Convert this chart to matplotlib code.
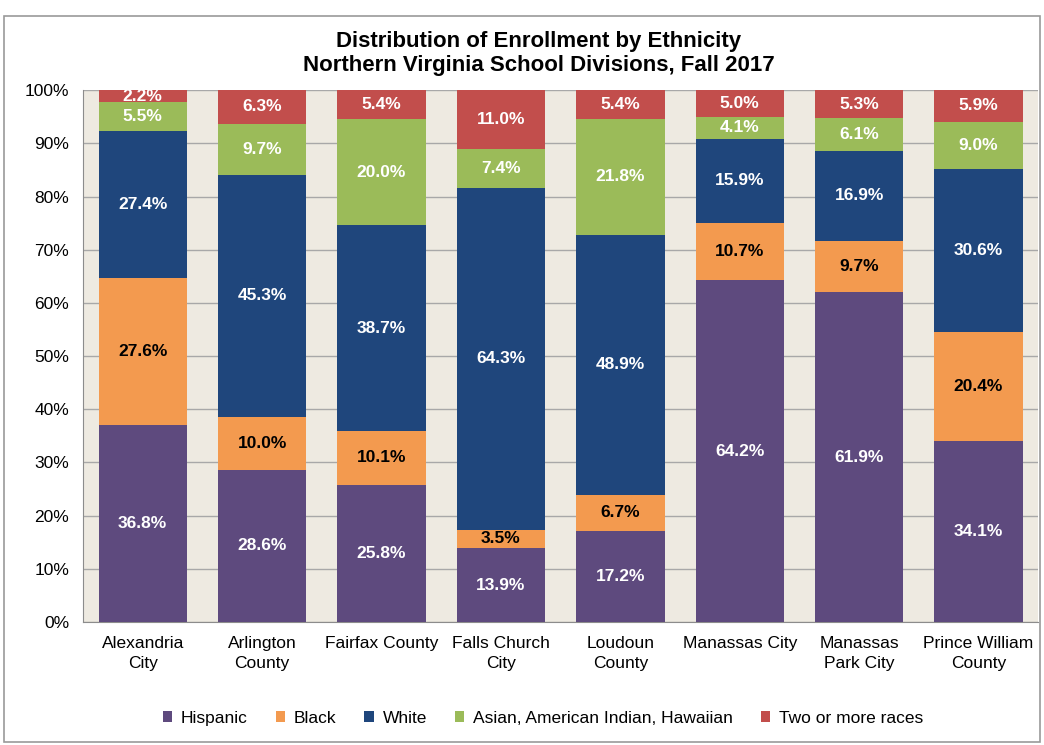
import matplotlib
matplotlib.use("Agg")
import matplotlib.pyplot as plt
import numpy as np
from matplotlib.patches import Rectangle

plt.rcParams['font.family'] = ['Liberation Sans', 'DejaVu Sans']

categories = ["Alexandria\nCity", "Arlington\nCounty", "Fairfax County", "Falls Church\nCity",
              "Loudoun\nCounty", "Manassas City", "Manassas\nPark City", "Prince William\nCounty"]
series_names = ["Hispanic", "Black", "White", "Asian, American Indian, Hawaiian", "Two or more races"]
hispanic = [36.8, 28.6, 25.8, 13.9, 17.2, 64.2, 61.9, 34.1]
black = [27.6, 10.0, 10.1, 3.5, 6.7, 10.7, 9.7, 20.4]
white = [27.4, 45.3, 38.7, 64.3, 48.9, 15.9, 16.9, 30.6]
asian = [5.5, 9.7, 20.0, 7.4, 21.8, 4.1, 6.1, 9.0]
two_more = [2.2, 6.3, 5.4, 11.0, 5.4, 5.0, 5.3, 5.9]

colors = ["#5E4A7E", "#F39A4F", "#1F467C", "#9BBB59", "#C24E4C"]
label_colors = ["white", "black", "white", "white", "white"]

fig = plt.figure(figsize=(10.44, 7.45), dpi=100)
fig.patch.set_facecolor("white")
fig.add_artist(Rectangle((0.004, 0.004), 0.992, 0.975, transform=fig.transFigure,
                         fill=False, edgecolor="#9a9a9a", linewidth=1.2))

ax = fig.add_axes([0.0795, 0.165, 0.915, 0.714])
ax.set_facecolor("#EEEAE1")

x = np.arange(len(categories))
data = [np.array(d, dtype=float) for d in [hispanic, black, white, asian, two_more]]
totals = np.sum(data, axis=0)
bottom = np.zeros(len(categories))
for vals, name, c, lc in zip(data, series_names, colors, label_colors):
    heights = vals / totals * 100  # 100% stacked
    ax.bar(x, heights, 0.74, bottom=bottom, color=c, label=name, zorder=3)
    for xi, v, h, b in zip(x, vals, heights, bottom):
        ax.text(xi, b + h / 2, f"{v:.1f}%", ha="center", va="center", color=lc,
                fontsize=12.5, fontweight="bold", zorder=4)
    bottom += heights

ax.set_xlim(-0.5, len(categories) - 0.5)
ax.set_ylim(0, 100)
ax.set_yticks(np.arange(0, 101, 10))
ax.set_yticklabels([f"{v}%" for v in range(0, 101, 10)], fontsize=12.5)
ax.set_xticks(x)
ax.set_xticklabels(categories, fontsize=12.5, linespacing=1.4)
ax.tick_params(axis="x", length=0, pad=10)
ax.tick_params(axis="y", length=0, pad=10)
ax.yaxis.grid(True, color="#a8a8a8", linewidth=1.0, zorder=0)
for s in ["top", "right"]:
    ax.spines[s].set_visible(False)
ax.spines["left"].set_color("#8c8c8c")
ax.spines["bottom"].set_color("#8c8c8c")

fig.text(0.516, 0.958, "Distribution of Enrollment by Ethnicity\nNorthern Virginia School Divisions, Fall 2017",
         ha="center", va="top", fontsize=16, fontweight="bold", linespacing=1.15)

handles, labels = ax.get_legend_handles_labels()
fig.legend(handles, labels, loc="center", bbox_to_anchor=(0.52, 0.036), ncol=5, frameon=False,
           fontsize=12.5, handlelength=0.55, handleheight=0.55, handletextpad=0.5, columnspacing=1.6)

fig.savefig("out.png", dpi=100)
